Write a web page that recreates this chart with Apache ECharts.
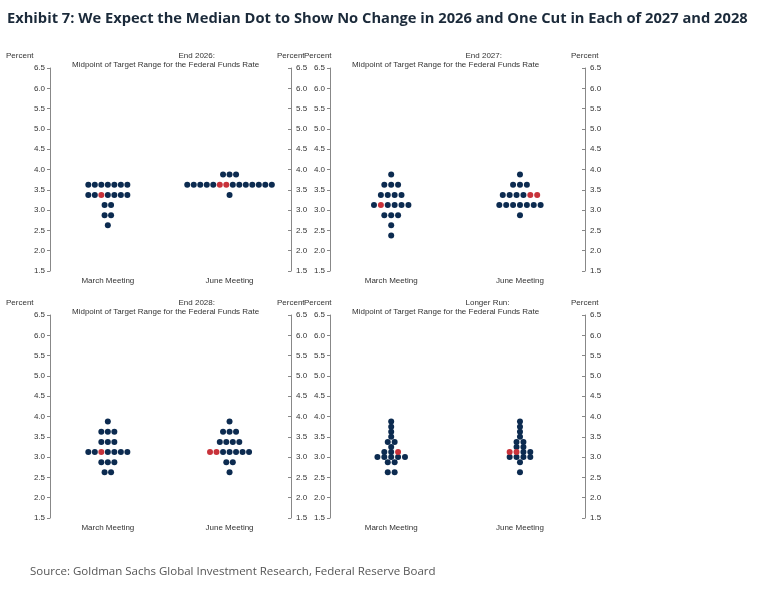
<!DOCTYPE html>
<html><head><meta charset="utf-8">
<script src="https://cdn.jsdelivr.net/npm/echarts@6/dist/echarts.min.js"></script>
<style>body{margin:0;background:#fff}#c{width:771px;height:591px}</style>
</head><body><div id="c"></div>
<script>
// rows: [rate, number of dots, red dot positions in row]
const panelTitles = ['End 2026:', 'End 2027:', 'End 2028:', 'Longer Run:'];
const meetings = ['March Meeting', 'June Meeting'];
const yTicks = [1.5, 2.0, 2.5, 3.0, 3.5, 4.0, 4.5, 5.0, 5.5, 6.0, 6.5];
const march2026 = [[3.625, 7, []], [3.375, 7, [2]], [3.125, 2, []], [2.875, 2, []], [2.625, 1, []]];
const june2026 = [[3.875, 3, []], [3.625, 14, [5, 6]], [3.375, 1, []]];
const march2027 = [[3.875, 1, []], [3.625, 3, []], [3.375, 4, []], [3.125, 6, [1]], [2.875, 3, []], [2.625, 1, []], [2.375, 1, []]];
const june2027 = [[3.875, 1, []], [3.625, 3, []], [3.375, 6, [4, 5]], [3.125, 7, []], [2.875, 1, []]];
const march2028 = [[3.875, 1, []], [3.625, 3, []], [3.375, 3, []], [3.125, 7, [2]], [2.875, 3, []], [2.625, 2, []]];
const june2028 = [[3.875, 1, []], [3.625, 3, []], [3.375, 4, []], [3.125, 7, [0, 1]], [2.875, 2, []], [2.625, 1, []]];
const marchLR = [[3.875, 1, []], [3.75, 1, []], [3.625, 1, []], [3.5, 1, []], [3.375, 2, []], [3.25, 1, []], [3.125, 3, [2]], [3.0, 5, []], [2.875, 2, []], [2.625, 2, []]];
const juneLR = [[3.875, 1, []], [3.75, 1, []], [3.625, 1, []], [3.5, 1, []], [3.375, 2, []], [3.25, 2, []], [3.125, 4, [0, 1]], [3.0, 4, []], [2.875, 1, []], [2.625, 1, []]];
const panels = [[march2026, june2026], [march2027, june2027], [march2028, june2028], [marchLR, juneLR]];

const centers = [0.24, 0.745];
const step = 0.027;
const NAVY = '#0c2b50', RED = '#c8323a';
const boxes = [
  {left: 50, top: 68, width: 241, height: 203},
  {left: 330, top: 68, width: 255, height: 203},
  {left: 50, top: 315, width: 241, height: 203},
  {left: 330, top: 315, width: 255, height: 203}
];
const lab = {fontFamily: 'Liberation Sans, Arial', fontSize: 8, color: '#333'};
const grid = [], xAxis = [], yAxis = [], series = [], graphic = [];
boxes.forEach((b, p) => {
  grid.push(Object.assign({}, b));
  xAxis.push({type: 'value', gridIndex: p, min: 0, max: 1,
    axisLine: {show: false}, axisTick: {show: false}, splitLine: {show: false},
    axisLabel: Object.assign({customValues: centers, formatter: v => meetings[v < 0.5 ? 0 : 1], margin: 6}, lab)});
  ['left', 'right'].forEach(pos => {
    yAxis.push({type: 'value', gridIndex: p, position: pos, min: 1.5, max: 6.5, interval: 0.5,
      axisLine: {show: true, lineStyle: {color: '#888'}},
      axisTick: {show: true, inside: pos === 'right', length: 3, lineStyle: {color: '#888'}},
      splitLine: {show: false},
      axisLabel: Object.assign({formatter: v => v.toFixed(1), margin: 5}, lab)});
  });
  const blue = [], red = [];
  panels[p].forEach((col, ci) => {
    col.forEach(([y, n, reds]) => {
      for (let i = 0; i < n; i++) {
        const pt = [centers[ci] + (i - (n - 1) / 2) * step, y];
        (reds.includes(i) ? red : blue).push(pt);
      }
    });
  });
  [[blue, NAVY], [red, RED]].forEach(([d, c]) => series.push({
    type: 'scatter', xAxisIndex: p, yAxisIndex: p * 2, data: d, symbolSize: 6,
    itemStyle: {color: c, opacity: 1}, silent: true}));
  const ts = {font: '8px Liberation Sans, Arial', fill: '#333'};
  graphic.push({type: 'text', left: p % 2 ? b.left - 26 : b.left - 44, top: b.top - 16, style: Object.assign({text: 'Percent'}, ts)});
  graphic.push({type: 'text', left: b.left + b.width - 14, top: b.top - 16, style: Object.assign({text: 'Percent'}, ts)});
  graphic.push({type: 'text', left: b.left + b.width / 2 + 8, top: b.top - 16, style: Object.assign({text: panelTitles[p], textAlign: 'center'}, ts)});
  graphic.push({type: 'text', left: b.left + 22, top: b.top - 7, style: Object.assign({text: 'Midpoint of Target Range for the Federal Funds Rate'}, ts)});
});
graphic.push({type: 'text', left: 7, top: 11, style: {text: 'Exhibit 7: We Expect the Median Dot to Show No Change in 2026 and One Cut in Each of 2027 and 2028', font: 'bold 14.7px Open Sans, Liberation Sans', fill: '#1b2a3a'}});
graphic.push({type: 'text', left: 30, top: 566, style: {text: 'Source: Goldman Sachs Global Investment Research, Federal Reserve Board', font: '11.5px Open Sans, Liberation Sans', fill: '#555'}});
const chart = echarts.init(document.getElementById('c'));
chart.setOption({animation: false, grid, xAxis, yAxis, series, graphic});
</script></body></html>
